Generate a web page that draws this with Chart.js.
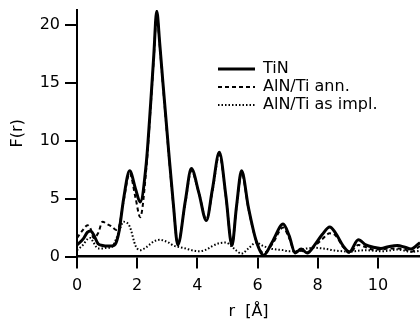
<!DOCTYPE html>
<html>
<head>
<meta charset="utf-8">
<script src="https://cdn.jsdelivr.net/npm/chart.js@4.4.1/dist/chart.umd.min.js"></script>
<style>
  html, body { margin: 0; padding: 0; background: #fff; }
  #wrap { width: 420px; height: 321px; }
</style>
</head>
<body>
<div id="wrap"><canvas id="chart"></canvas></div>
<script>
// r in Angstrom, shared by all three curves
const rValues = [0, 0.2, 0.35, 0.45, 0.55, 0.7, 0.85, 1.0, 1.15, 1.3,
  1.4, 1.55, 1.75, 1.95, 2.1, 2.3, 2.45, 2.55, 2.65, 2.75,
  2.85, 3.05, 3.2, 3.35, 3.6, 3.8, 4.05, 4.3, 4.5, 4.73,
  4.95, 5.15, 5.3, 5.47, 5.7, 5.95, 6.2, 6.5, 6.85, 7.05,
  7.25, 7.45, 7.65, 7.9, 8.15, 8.4, 8.6, 8.85, 9.05, 9.35,
  9.6, 9.85, 10.1, 10.35, 10.65, 10.9, 11.1, 11.4];

const tinValues = [1.0, 1.5, 2.1, 2.2, 1.9, 1.1, 0.95, 0.9, 0.9, 1.2,
  2.2, 5.0, 7.4, 5.8, 4.7, 8.0, 13.3, 17.3, 21.2, 18.4,
  15.2, 9.0, 4.6, 1.0, 4.8, 7.6, 5.5, 3.1, 5.8, 9.0,
  5.2, 0.95, 4.3, 7.4, 4.2, 1.4, 0.1, 1.3, 2.8, 1.8,
  0.3, 0.65, 0.3, 1.0, 1.9, 2.55, 2.0, 0.9, 0.4, 1.45,
  1.0, 0.8, 0.7, 0.85, 0.95, 0.8, 0.65, 1.2];

const annValues = [1.6, 2.3, 2.7, 2.4, 1.6, 2.0, 3.0, 2.8, 2.6, 2.3,
  2.6, 4.8, 7.2, 5.0, 3.4, 7.5, 13.0, 17.0, 21.0, 18.2,
  15.0, 8.8, 4.5, 1.1, 4.6, 7.4, 5.5, 3.2, 5.6, 8.8,
  5.1, 1.0, 4.2, 7.2, 4.1, 1.4, 0.3, 1.1, 2.5, 1.6,
  0.4, 0.5, 0.35, 0.9, 1.5, 2.0, 1.8, 0.8, 0.3, 1.0,
  0.8, 0.6, 0.6, 0.7, 0.7, 0.6, 0.4, 0.9];

const implValues = [0.55, 1.0, 1.5, 1.6, 1.2, 0.7, 0.7, 0.75, 0.8, 1.5,
  2.2, 3.0, 2.6, 0.9, 0.55, 0.8, 1.1, 1.3, 1.4, 1.45,
  1.4, 1.2, 0.95, 0.85, 0.7, 0.55, 0.45, 0.6, 0.9, 1.15,
  1.2, 0.85, 0.5, 0.25, 0.7, 1.2, 0.9, 0.65, 0.55, 0.45,
  0.45, 0.6, 0.7, 0.75, 0.7, 0.6, 0.5, 0.45, 0.4, 0.5,
  0.55, 0.5, 0.45, 0.5, 0.6, 0.5, 0.4, 0.5];

const seriesLabels = ['TiN', 'AlN/Ti ann.', 'AlN/Ti as impl.'];
const xTicks = [0, 2, 4, 6, 8, 10];
const yTicks = [0, 5, 10, 15, 20];

function toPoints(ys) {
  return rValues.map((r, i) => ({ x: r, y: ys[i] }));
}

Chart.defaults.font.family = "'DejaVu Sans', sans-serif";
Chart.defaults.color = '#000';

// put the legend inside the plot, to the right of the main peak
const legendPlacer = {
  id: 'legendPlacer',
  afterLayout(chart) {
    const lg = chart.legend;
    if (!lg) return;
    const w = lg.width, h = lg.height;
    lg.left = 216; lg.top = 59;
    lg.right = lg.left + w; lg.bottom = lg.top + h;
  }
};

const lineBase = { pointRadius: 0, borderColor: '#000', backgroundColor: '#000',
  cubicInterpolationMode: 'monotone', pointStyle: 'line', fill: false };

new Chart(document.getElementById('chart'), {
  type: 'line',
  data: {
    datasets: [
      { ...lineBase, label: seriesLabels[0], data: toPoints(tinValues), borderWidth: 3 },
      { ...lineBase, label: seriesLabels[1], data: toPoints(annValues), borderWidth: 2, borderDash: [4, 3] },
      { ...lineBase, label: seriesLabels[2], data: toPoints(implValues), borderWidth: 2, borderDash: [1.5, 2] }
    ]
  },
  options: {
    responsive: true,
    maintainAspectRatio: false,
    animation: false,
    layout: { padding: { top: 10, right: 0, left: 0, bottom: 0 } },
    plugins: {
      tooltip: { enabled: false },
      legend: {
        position: 'chartArea',
        align: 'start',
        labels: {
          usePointStyle: true, pointStyleWidth: 37, padding: 2, font: { size: 16 }, color: '#000',
          // point-style items lose the dash pattern, so copy it back from the dataset
          generateLabels(chart) {
            const items = Chart.defaults.plugins.legend.labels.generateLabels(chart);
            items.forEach(it => {
              const ds = chart.data.datasets[it.datasetIndex];
              it.lineDash = ds.borderDash || [];
              it.lineWidth = ds.borderWidth;
              it.strokeStyle = ds.borderColor;
            });
            return items;
          }
        }
      }
    },
    scales: {
      x: {
        type: 'linear', min: 0, max: 11.4,
        afterBuildTicks: s => { s.ticks = xTicks.map(v => ({ value: v })); },
        afterFit: s => { s.height = 64.5; s.paddingLeft = 0; s.paddingRight = 0; },
        ticks: { padding: 8, font: { size: 16 }, color: '#000', maxRotation: 0 },
        grid: { drawOnChartArea: false, tickLength: 12, lineWidth: 2, color: '#000' },
        border: { display: true, color: '#000', width: 2.5 },
        title: { display: true, text: 'r  [Å]', font: { size: 16 }, padding: { top: 0, bottom: 0 }, color: '#000' }
      },
      y: {
        min: 0, max: 21.3,
        afterBuildTicks: s => { s.ticks = yTicks.map(v => ({ value: v })); },
        afterFit: s => { s.width = 77; s.paddingTop = 0; s.paddingBottom = 0; },
        ticks: { padding: 5, font: { size: 16 }, color: '#000' },
        grid: { drawOnChartArea: false, tickLength: 12, lineWidth: 2, color: '#000' },
        border: { display: true, color: '#000', width: 2 },
        title: { display: true, text: 'F(r)', font: { size: 16 }, padding: { top: 8, bottom: 0 }, color: '#000' }
      }
    }
  },
  plugins: [legendPlacer]
});
</script>
</body>
</html>
